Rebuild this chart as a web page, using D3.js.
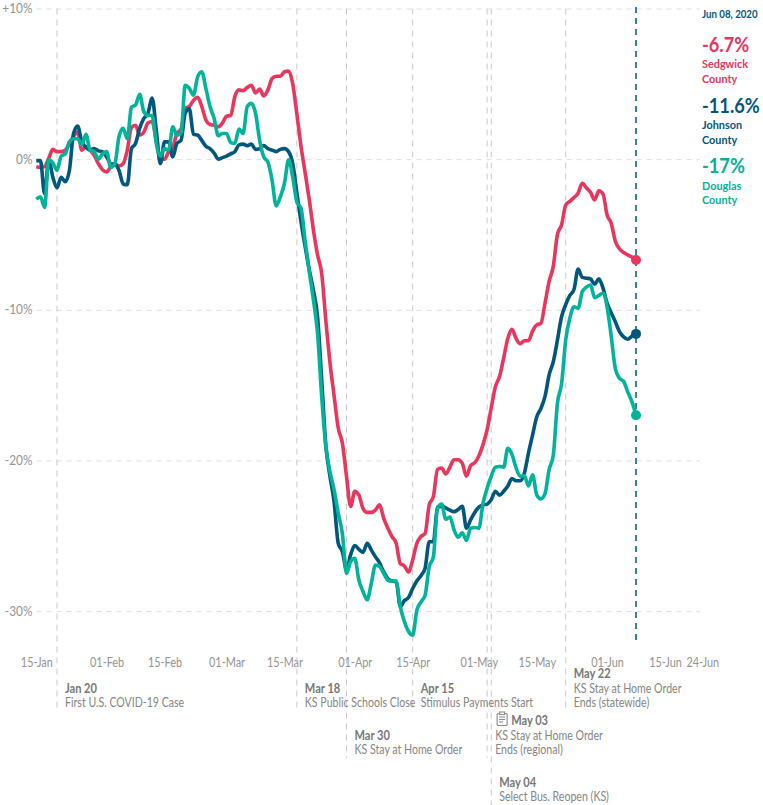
<!DOCTYPE html>
<html><head><meta charset="utf-8">
<script src="https://cdn.jsdelivr.net/npm/d3@7"></script>
<style>
html,body{margin:0;padding:0;background:#fff}
svg{display:block}
text{font-family:Lato,"Noto Sans",sans-serif}
</style></head><body>
<svg id="c" width="763" height="805"></svg>
<script>
const startDay = "2020-01-15";
const sedgwick = [-0.5,-0.55,-0.5,0.05,0.65,0.5,0.5,0.6,1.0,1.5,1.8,0.6,0.8,0.6,0.25,-0.3,-0.7,-0.85,-0.5,-0.3,-0.45,-0.3,0.6,2.1,2.25,1.6,1.8,2.4,2.5,1.25,0,0,0.5,0.8,1.7,2.0,3.4,3.5,3.9,4.1,3.5,2.6,2.3,2.25,2.15,2.4,2.85,2.9,4.15,4.6,4.55,4.75,4.9,4.4,4.65,4.2,4.6,5.35,5.5,5.5,5.8,5.85,5.0,3.0,0.85,-0.9,-2.7,-4.7,-6.35,-7.6,-10.7,-13.5,-15.7,-17.85,-18.85,-21.05,-23.05,-22.05,-22.3,-23.2,-23.45,-23.45,-23.3,-22.95,-23.85,-24.5,-25.05,-25.5,-26.85,-27,-27.4,-26.6,-25.5,-25.05,-24.85,-22.95,-22.4,-20.6,-20.5,-20.9,-20.45,-19.95,-19.95,-20.2,-21.05,-20.35,-20.15,-19.7,-18.95,-17.95,-16.5,-15.1,-14.43,-13.2,-11.9,-11.3,-11.9,-12.25,-12.05,-12.05,-11.4,-11,-10.9,-9.55,-8.1,-7.1,-5,-4.35,-3.05,-2.8,-2.55,-2.25,-1.6,-1.9,-2.2,-2.7,-2.1,-2.3,-3.7,-4.25,-5.45,-5.95,-6.2,-6.35,-6.5,-6.7];
const johnson = [-0.1,-0.1,-2.3,-0.05,-1.2,-1.9,-1.2,-1.5,-0.75,1.7,2.2,1.15,0.8,0.6,0.7,0.55,0.5,0.15,-0.3,-0.35,-0.75,-1.65,-1.7,0.7,1.05,2.05,2.7,3.05,4.05,1.95,-0.3,1.15,1.15,0.15,1.05,1.25,3.05,3.35,1.65,1.6,1.25,0.85,0.7,0.4,0,0.1,0.2,0.35,0.5,0.95,1,0.9,1,0.65,0.7,0.9,0.7,0.6,0.5,0.65,0.7,0.5,-0.3,-2.25,-4.15,-5.8,-7.35,-8.7,-10.45,-14.65,-19,-21.05,-22.75,-25.5,-26.05,-27.25,-26.25,-25.65,-25.9,-26.1,-25.5,-25.95,-26.4,-26.8,-27.4,-27.85,-28,-28.05,-29.7,-29.3,-29.1,-28.5,-28,-27.65,-27.15,-25.4,-25.4,-23.1,-23.05,-23.15,-23.3,-23.4,-23.25,-23.05,-24.5,-23.95,-23.45,-23.1,-22.95,-22.9,-22.6,-22.05,-22.3,-22.05,-21.7,-21.2,-21.35,-21.35,-20.85,-19.5,-18.3,-17.1,-16.55,-15.75,-14.3,-13.45,-12,-10.45,-9.65,-9.05,-8.65,-7.3,-7.85,-7.9,-7.95,-8.3,-7.95,-8.55,-9.55,-10.2,-10.8,-11.45,-11.8,-11.95,-11.75,-11.6];
const douglas = [-2.65,-2.5,-3.2,-0.05,-0.25,-0.75,0.2,0.35,1.15,1.35,1.35,0.95,1.65,0.6,0.5,0,0.35,0.5,-0.55,-0.3,1.5,2.05,1.35,3.45,3.6,4.3,3.15,2.9,2.9,1.05,0.2,0.7,0.6,2.15,1.6,1.7,4.9,4.7,4.25,5.45,5.8,4.7,3.5,2.7,1.55,1.7,1.7,1.1,1.05,2,1.7,3.5,3.7,3.05,1.25,0.15,-0.2,-1.4,-3.1,-2.5,-1.6,-0.05,-1.2,-2.85,-3.25,-5.45,-7.45,-9.35,-11.55,-15.75,-19.05,-20.75,-21.95,-23.5,-24.85,-27.5,-26.7,-26.5,-27.95,-28.7,-29.25,-28.15,-26.95,-27.05,-27.5,-27.95,-28,-28,-29.7,-30.7,-31.35,-31.6,-29.95,-29.4,-28.95,-27.05,-26.4,-23.15,-22.9,-23.9,-23.75,-24.6,-25.1,-24.8,-25.3,-24.5,-24.45,-24.5,-22.85,-21.85,-21.05,-20.45,-20.4,-20.45,-19.2,-19.6,-20.5,-21.05,-21,-21.7,-20.95,-22.3,-22.55,-22.2,-20.6,-19.65,-16.2,-14.9,-12,-10.55,-9.8,-9.9,-8.8,-8.5,-8.35,-9.2,-9.05,-8.9,-9.8,-11.75,-13.9,-14.55,-14.75,-15.45,-16.1,-17];
const xTickDates = ["2020-01-15","2020-02-01","2020-02-15","2020-03-01","2020-03-15","2020-04-01","2020-04-15","2020-05-01","2020-05-15","2020-06-01","2020-06-15","2020-06-24"];
const yTicks = [10,0,-10,-20,-30];
const eventDates = ["2020-01-20","2020-03-18","2020-03-30","2020-04-15","2020-05-03","2020-05-04","2020-05-22"];
const eventTitles = ["Jan 20","Mar 18","Mar 30","Apr 15","May 03","May 04","May 22"];
const eventLines = [["First U.S. COVID-19 Case"],["KS Public Schools Close"],["KS Stay at Home Order"],["Stimulus Payments Start"],["KS Stay at Home Order","Ends (regional)"],["Select Bus. Reopen (KS)"],["KS Stay at Home Order","Ends (statewide)"]];
const eventLevels = [707,707,754,707,754,801,707];
const eventLineBottom = [711,711,758,711,758,805,711];
const eventTextOffset = [8,8,8,8,8,8,8];
const eventIcon = [false,false,false,false,true,false,false];
const seriesNames = [["Sedgwick","County"],["Johnson","County"],["Douglas","County"]];
const seriesLabels = ["-6.7%","-11.6%","-17%"];
const seriesColors = ["#e8365d","#00567d","#00b39b"];
const asOf = "Jun 08, 2020";
const asOfDate = "2020-06-08";

const parse = d3.utcParse("%Y-%m-%d");
const svg = d3.select("#c");
const x = d3.scaleUtc().domain([parse("2020-01-15"),parse("2020-06-24")]).range([36.3,702.2]);
const y = d3.scaleLinear().domain([10,-30]).range([8.5,611.1]);
const grey = "#c9c9c9";

// condense a text horizontally, the installed fonts being wider than the original
function squeeze(sel,f){
  sel.each(function(){
    const w=this.getComputedTextLength();
    d3.select(this).attr("textLength",(w*f).toFixed(1)).attr("lengthAdjust","spacingAndGlyphs");
  });
  return sel;
}

// y grid + labels
const ya = svg.append("g").attr("transform","translate(36.5,0)")
  .call(d3.axisLeft(y).tickValues(yTicks).tickSize(-663.5).tickPadding(4)
    .tickFormat(d=>d>0?`+${d}%`:`${d}%`));
ya.select(".domain").remove();
ya.selectAll("line").attr("stroke","#dedede").attr("stroke-width",1).attr("stroke-dasharray","5,5");
ya.selectAll("text").attr("fill","#939393").style("font-size","12.5px").attr("dy","0.32em");
squeeze(ya.selectAll("text"),0.95);

// x labels
const xa = svg.append("g").attr("transform","translate(0,652)")
  .call(d3.axisBottom(x).tickValues(xTickDates.map(parse)).tickSize(0).tickPadding(6)
    .tickFormat(d3.utcFormat("%d-%b")));
xa.select(".domain").remove();
xa.selectAll("text").attr("fill","#939393").style("font-size","12.5px");
squeeze(xa.selectAll("text"),0.87);

// event lines
eventDates.forEach((d,i)=>{
  const px = x(parse(d));
  svg.append("line").attr("x1",px).attr("x2",px).attr("y1",8.5).attr("y2",eventLineBottom[i])
    .attr("stroke",grey).attr("stroke-width",1).attr("stroke-dasharray","6,5");
});

// event text
eventDates.forEach((d,i)=>{
  const px = x(parse(d)) + eventTextOffset[i];
  const lines = eventLines[i];
  const last = eventLevels[i];
  lines.forEach((t,k)=>{
    squeeze(svg.append("text").attr("x",px).attr("y",last-(lines.length-1-k)*14.5)
      .attr("fill","#858585").style("font-size","12.6px").text(t),0.84);
  });
  const ty = last-lines.length*14.5;
  squeeze(svg.append("text").attr("x",px+(eventIcon[i]?16:0)).attr("y",ty)
    .attr("fill","#777").style("font-size","12.6px").style("font-weight",700).text(eventTitles[i]),0.88);
  if(eventIcon[i]){
    const g = svg.append("g").attr("transform",`translate(${px+1.5},${ty-13})`)
      .attr("fill","none").attr("stroke","#8a8a8a").attr("stroke-width",1.1);
    g.append("rect").attr("x",0.5).attr("y",1.5).attr("width",10).attr("height",12).attr("rx",1);
    g.append("rect").attr("x",3).attr("y",0).attr("width",5).attr("height",2.5).attr("fill","#fff");
    [5,7.5,10].forEach((v,j)=>g.append("line").attr("x1",2.5).attr("x2",j==2?6.5:8.5).attr("y1",v).attr("y2",v));
  }
});

// current-date line
const cx = x(parse(asOfDate));
svg.append("line").attr("x1",cx).attr("x2",cx).attr("y1",7).attr("y2",640)
  .attr("stroke","#00567d").attr("stroke-width",1.5).attr("stroke-dasharray","6,5");

// series
const seriesData = [sedgwick,johnson,douglas];
const day0 = parse(startDay);
const line = d3.line().x((v,i)=>x(d3.utcDay.offset(day0,i))).y(v=>y(v)).curve(d3.curveMonotoneX);
seriesData.forEach((vals,i)=>{
  svg.append("path").attr("d",line(vals)).attr("fill","none").attr("stroke",seriesColors[i])
    .attr("stroke-width",3.6).attr("stroke-linejoin","round");
});
seriesData.forEach((vals,i)=>{
  svg.append("circle").attr("cx",cx).attr("cy",y(vals[vals.length-1])).attr("r",5).attr("fill",seriesColors[i]);
});

// right legend
const lx = 702;
squeeze(svg.append("text").attr("x",lx).attr("y",18).attr("fill","#00567d").style("font-size","11px").style("font-weight",700).text(asOf),0.88);
const valY=[52,113,173], n1=[68,129,190], n2=[82.7,143.7,204];
seriesLabels.forEach((t,i)=>{
  squeeze(svg.append("text").attr("x",lx).attr("y",valY[i]).attr("fill",seriesColors[i]).style("font-size","20px").style("font-weight",700).text(t),0.91);
  squeeze(svg.append("text").attr("x",lx).attr("y",n1[i]).attr("fill",seriesColors[i]).style("font-size","11.8px").style("font-weight",700).text(seriesNames[i][0]),0.92);
  squeeze(svg.append("text").attr("x",lx).attr("y",n2[i]).attr("fill",seriesColors[i]).style("font-size","11.8px").style("font-weight",700).text(seriesNames[i][1]),0.92);
});
</script></body></html>
